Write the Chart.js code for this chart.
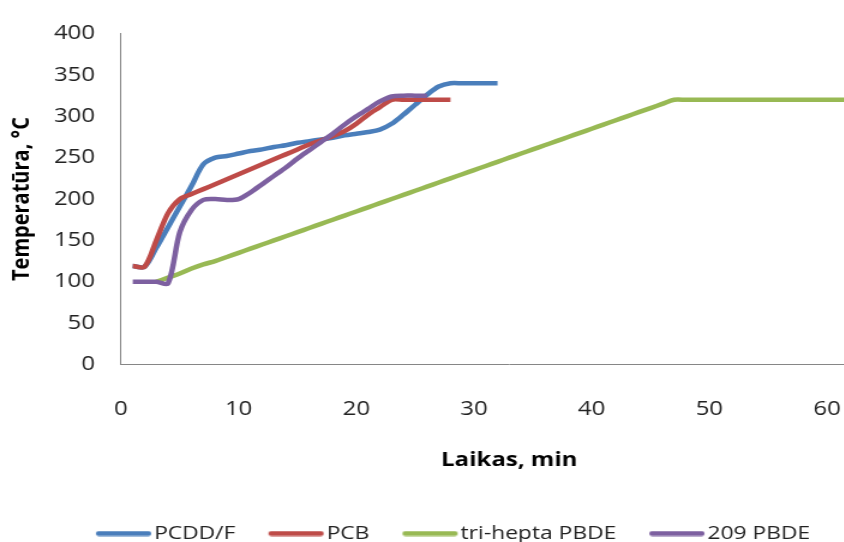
<!DOCTYPE html>
<html><head><meta charset="utf-8">
<script src="https://cdn.jsdelivr.net/npm/chart.js@4.4.1/dist/chart.umd.min.js"></script>
<style>
html,body{margin:0;padding:0;background:#fff;overflow:hidden;}
#wrap{width:844px;height:542px;overflow:hidden;position:relative;background:#fff;}
#c{position:absolute;left:0;top:0;transform:scaleX(1.2);transform-origin:0 0;}
</style></head><body>
<div id="wrap"><canvas id="c" width="758" height="553"></canvas></div>
<script>
// ---- data ----
const seriesNames = ['PCDD/F', 'PCB', 'tri-hepta PBDE', '209 PBDE'];

const pcddfTime = [1,2,3,4,5,6,7,8,9,10,11,12,13,14,15,16,17,18,19,20,21,22,23,24,25,26,27,28,29,30,31,32];
const pcddfTemp = [119,118,141,166,191,216,242,250,252,255,258,260,263,265,268,270,272,274,277,279,281,284,291,302,314,326,336,340,340,340,340,340];

const pcbTime = [1,2,3,4,5,6,7,8,9,10,11,12,13,14,15,16,17,18,19,20,21,22,23,24,25,26,27,28];
const pcbTemp = [119,118,150,183,200,206,212,218,224,230,236,242,248,254,260,266,271,276,282,291,302,311,320,320,320,320,320,320];

const triHeptaTime = [3,4,5,6,7,8,9,10,11,12,13,14,15,16,17,18,19,20,21,22,23,24,25,26,27,28,29,30,31,32,33,34,35,36,37,38,39,40,41,42,43,44,45,46,47,48,49,50,51,52,53,54,55,56,57,58,59,60,61,62];
const triHeptaTemp = [100,105,110,116,121,125,130,135,140,145,150,155,160,165,170,175,180,185,190,195,200,205,210,215,220,225,230,235,240,245,250,255,260,265,270,275,280,285,290,295,300,305,310,315,320,320,320,320,320,320,320,320,320,320,320,320,320,320,320,320];

const pbde209Time = [1,2,3,4,5,6,7,8,9,10,11,12,13,14,15,16,17,18,19,20,21,22,23,24,25,26];
const pbde209Temp = [100,100,100,98,160,187,199,200,199,200,208,218,228,238,249,259,269,279,290,300,309,318,324,325,325,325];

const xTicks = [0,10,20,30,40,50,60];
const yTicks = [0,50,100,150,200,250,300,350,400];

const colors = ['#4A7EBB', '#BE4B48', '#98B954', '#7D60A0'];

function pts(t, v) { return t.map((x, i) => ({x: x, y: v[i]})); }
function legendLine(color) {
  const cv = document.createElement('canvas');
  cv.width = 54; cv.height = 6;
  const g = cv.getContext('2d');
  g.strokeStyle = color; g.lineWidth = 5; g.lineCap = 'round';
  g.beginPath(); g.moveTo(5.5, 3); g.lineTo(46.5, 3); g.stroke();
  return cv;
}

const FONT = 'Open Sans';
const allData = [pts(pcddfTime, pcddfTemp), pts(pcbTime, pcbTemp), pts(triHeptaTime, triHeptaTemp), pts(pbde209Time, pbde209Temp)];
const orders = [4, 3, 2, 1];

new Chart(document.getElementById('c'), {
  type: 'line',
  data: {
    datasets: seriesNames.map((name, i) => ({
      label: name,
      data: allData[i],
      borderColor: colors[i],
      backgroundColor: colors[i],
      borderWidth: 4.5,
      pointRadius: 0,
      pointHoverRadius: 0,
      pointStyle: legendLine(colors[i]),
      tension: 0.3,
      fill: false,
      order: orders[i]
    }))
  },
  options: {
    responsive: false,
    animation: false,
    devicePixelRatio: 1,
    layout: { padding: { top: 25, right: 10, left: 16, bottom: 0 } },
    plugins: {
      tooltip: { enabled: false },
      legend: {
        position: 'bottom',
        labels: {
          usePointStyle: true,
          pointStyleWidth: 30,
          padding: 36.5,
          color: '#222',
          font: { family: FONT, size: 19 },
          sort: (a, b) => a.datasetIndex - b.datasetIndex
        }
      }
    },
    scales: {
      x: {
        type: 'linear', min: 0, max: 66, bounds: 'data',
        grid: { display: false, drawTicks: false },
        border: { display: true, color: '#868686', width: 1 },
        afterBuildTicks: s => { s.ticks = xTicks.map(v => ({value: v})); },
        ticks: { stepSize: 10, includeBounds: false, padding: 33, color: '#222', maxRotation: 0, autoSkip: false, font: { family: FONT, size: 20 } },
        title: { display: true, text: 'Laikas, min', color: '#000', font: { family: FONT, size: 20, weight: 'bold' }, padding: { top: 15, bottom: 15 } },
        afterFit: s => { s.height = 123; }
      },
      y: {
        min: 0, max: 400,
        grid: { display: false, drawTicks: false },
        border: { display: true, color: '#868686', width: 1 },
        afterBuildTicks: s => { s.ticks = yTicks.map(v => ({value: v})); },
        ticks: { stepSize: 50, padding: 21.6, color: '#222', font: { family: FONT, size: 20 } },
        title: { display: true, text: 'Temperatūra, °C', color: '#000', font: { family: FONT, size: 20, weight: 'bold' }, padding: { top: -9.5, bottom: 0 } },
        afterFit: s => { s.width = 84.8; }
      }
    }
  }
});
</script>
</body></html>
